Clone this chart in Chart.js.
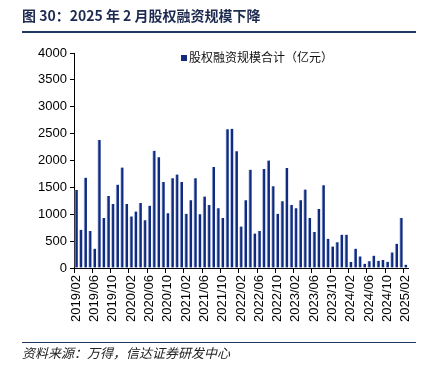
<!DOCTYPE html>
<html><head><meta charset="utf-8">
<script src="https://cdn.jsdelivr.net/npm/chart.js@4/dist/chart.umd.min.js"></script>
<style>
html,body{margin:0;padding:0;background:#fff;}
#wrap{position:relative;width:430px;height:368px;overflow:hidden;background:#fff;}
#c{position:absolute;left:0;top:0;}
.title{position:absolute;left:22px;top:6px;font:bold 14px "Noto Sans CJK SC";color:#1e2b50;white-space:nowrap;line-height:18px;}
.rule1{position:absolute;left:22px;top:31px;width:394px;height:2px;background:#1f3864;}
.rule2{position:absolute;left:22px;top:342px;width:394px;height:1px;background:#1f3864;}
.src{position:absolute;left:22px;top:344px;font:italic 13px "Noto Sans CJK SC";color:#222;white-space:nowrap;line-height:18px;}
.legend{position:absolute;left:181px;top:49px;font:12px "Noto Sans CJK SC";color:#111;white-space:nowrap;line-height:16px;}
.legend span{display:inline-block;width:6px;height:6px;background:#102b7e;margin-right:2px;vertical-align:1px;}
</style></head>
<body>
<div id="wrap">
<canvas id="c" width="430" height="368"></canvas>
<div class="title">图 30：2025 年 2 月股权融资规模下降</div>
<div class="rule1"></div>
<div class="legend" id="lg"></div>
<div class="rule2"></div>
<div class="src">资料来源：万得，信达证券研发中心</div>
</div>
<script>
const seriesName = "股权融资规模合计（亿元）";
const months = [
"2019/02","2019/03","2019/04","2019/05","2019/06","2019/07","2019/08","2019/09","2019/10","2019/11","2019/12",
"2020/01","2020/02","2020/03","2020/04","2020/05","2020/06","2020/07","2020/08","2020/09","2020/10","2020/11","2020/12",
"2021/01","2021/02","2021/03","2021/04","2021/05","2021/06","2021/07","2021/08","2021/09","2021/10","2021/11","2021/12",
"2022/01","2022/02","2022/03","2022/04","2022/05","2022/06","2022/07","2022/08","2022/09","2022/10","2022/11","2022/12",
"2023/01","2023/02","2023/03","2023/04","2023/05","2023/06","2023/07","2023/08","2023/09","2023/10","2023/11","2023/12",
"2024/01","2024/02","2024/03","2024/04","2024/05","2024/06","2024/07","2024/08","2024/09","2024/10","2024/11","2024/12",
"2025/01","2025/02"
];
const equityFinancing = [
1450,710,1680,690,360,2380,930,1340,1190,1550,1870,
1190,960,1050,1210,890,1160,2180,2060,1600,1020,1670,1740,
1600,1010,1260,1670,1000,1330,1170,1880,1110,930,2580,2590,
2170,770,1260,1830,640,690,1840,2000,1520,1010,1240,1860,
1170,1110,1260,1460,930,670,1100,1540,545,400,480,620,
620,110,360,215,78,125,230,135,150,115,290,450,
930,62
];
const yTicks = [0,500,1000,1500,2000,2500,3000,3500,4000];
const labelEvery = 4;

document.getElementById('lg').innerHTML = '<span></span>' + seriesName;

new Chart(document.getElementById('c'), {
  type: 'bar',
  data: {
    labels: months,
    datasets: [{
      label: seriesName,
      data: equityFinancing,
      backgroundColor: '#102b7e',
      borderColor: '#aebde6',
      borderWidth: {left: 1, top: 0, right: 0, bottom: 0},
      borderSkipped: false,
      barThickness: 3
    }]
  },
  options: {
    responsive: false,
    animation: false,
    devicePixelRatio: 1,
    layout: {padding: {left: 0, top: 53, right: 22, bottom: 0}},
    plugins: {legend: {display: false}, tooltip: {enabled: false}},
    scales: {
      x: {
        offset: true,
        grid: {
          offset: true,
          drawOnChartArea: false,
          drawTicks: true,
          tickLength: 5,
          color: (ctx) => (ctx.index % labelEvery === 0 && ctx.index < months.length) ? '#000' : 'rgba(0,0,0,0)'
        },
        border: {display: true, color: '#000', width: 1},
        ticks: {
          autoSkip: false,
          maxRotation: 90,
          minRotation: 90,
          padding: 2,
          color: '#000',
          font: {family: '"Liberation Sans", Arial, sans-serif', size: 13},
          callback: function(v, i) { return i % labelEvery === 0 ? this.getLabelForValue(v) : ''; }
        },
        afterFit: (s) => { s.height = 100; }
      },
      y: {
        min: yTicks[0],
        max: yTicks[yTicks.length - 1],
        afterBuildTicks: (s) => { s.ticks = yTicks.map(v => ({value: v})); },
        grid: {drawOnChartArea: false, drawTicks: true, tickLength: 4, color: '#000'},
        border: {display: true, color: '#000', width: 1},
        ticks: {
          padding: 3,
          color: '#000',
          font: {family: '"Liberation Sans", Arial, sans-serif', size: 13},
          callback: (v) => String(v)
        },
        afterFit: (s) => { s.width = 74; }
      }
    }
  }
});
</script>
</body></html>
